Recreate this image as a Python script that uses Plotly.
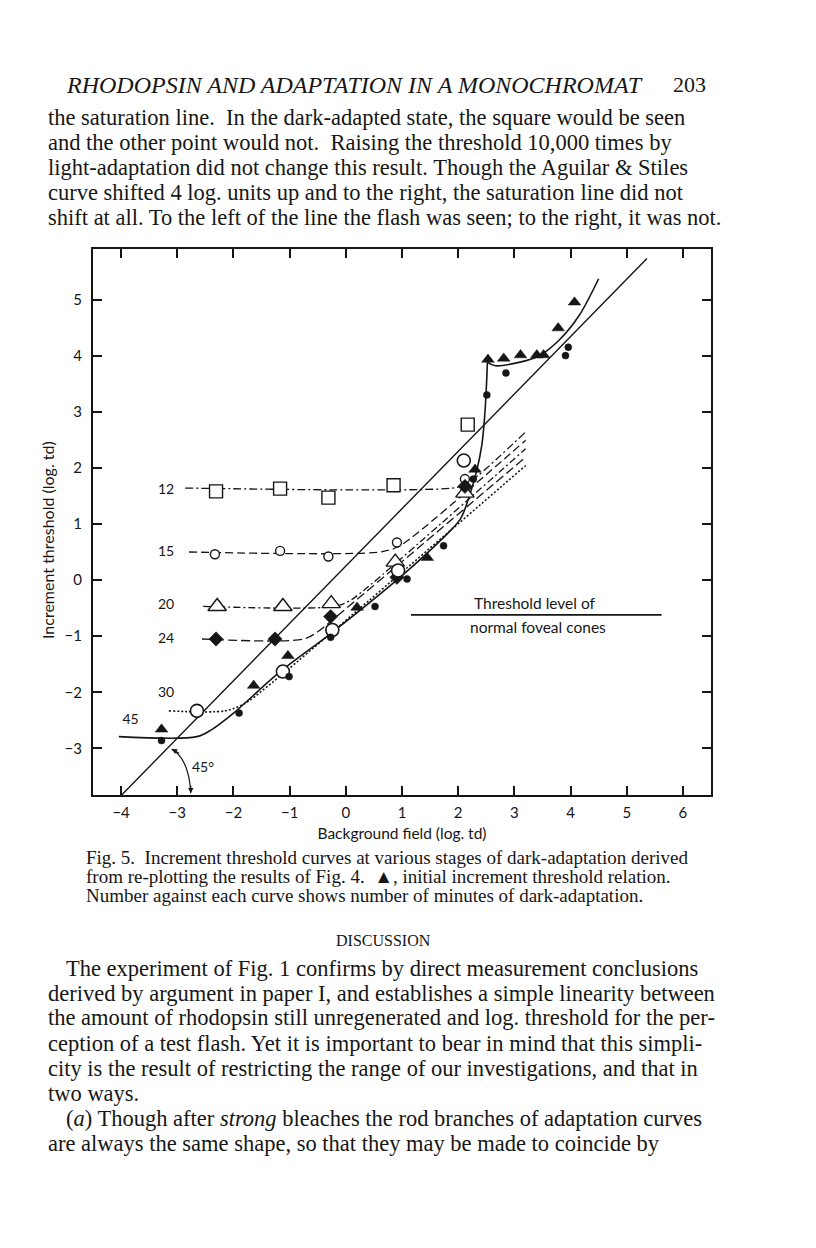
import plotly.graph_objects as go

INK = '#161616'
SERIF = 'Liberation Serif, Times New Roman, serif'
SANS = 'Lato, Open Sans, sans-serif'

# ---- chart data (log. td) ----
# 45 deg reference line
diag_x = [-4.0, 5.36]
diag_y = [-3.84, 5.73]

# solid curve (45 min), rod branch and cone branch
rod45_x = [-4.04, -2.65, -2.38, -2.02, -1.19, -0.24, 1.0, 1.7, 2.04, 2.2, 2.33, 2.42, 2.47, 2.5, 2.52]
rod45_y = [-2.79, -2.79, -2.66, -2.39, -1.65, -0.93, 0.08, 0.72, 1.09, 1.5, 1.95, 2.4, 2.9, 3.4, 3.88]
cone_x = [2.52, 2.66, 3.08, 3.43, 3.79, 4.15, 4.5]
cone_y = [3.88, 3.82, 3.88, 3.99, 4.27, 4.71, 5.37]

# fitted curves for each stage of dark-adaptation
c12_x = [-2.86, 1.9, 2.12, 2.35, 3.2]
c12_y = [1.64, 1.64, 1.7, 1.86, 2.64]
c15_x = [-2.79, 0.6, 0.9, 1.15, 3.2]
c15_y = [0.5, 0.5, 0.58, 0.74, 2.49]
c20_x = [-2.54, -0.2, 0.05, 0.3, 3.2]
c20_y = [-0.47, -0.47, -0.38, -0.2, 2.34]
c24_x = [-2.56, -0.75, -0.5, -0.25, 3.2]
c24_y = [-1.05, -1.05, -0.92, -0.72, 2.19]
c30_x = [-3.15, -2.15, -1.8, -1.4, 3.2]
c30_y = [-2.33, -2.33, -2.2, -1.9, 2.04]

# measured points
sq12_x = [-2.31, -1.17, -0.31, 0.85, 2.17]
sq12_y = [1.58, 1.63, 1.47, 1.69, 2.77]
ci15_x = [-2.33, -1.17, -0.31, 0.91, 2.12]
ci15_y = [0.46, 0.52, 0.42, 0.67, 1.8]
tr20_x = [-2.29, -1.12, -0.26, 0.88, 2.12]
tr20_y = [-0.47, -0.47, -0.42, 0.32, 1.55]
di24_x = [-2.31, -1.26, -0.27, 0.91, 2.12]
di24_y = [-1.05, -1.05, -0.65, 0.05, 1.67]
ci30_x = [-2.65, -1.12, -0.24, 0.93, 2.1]
ci30_y = [-2.33, -1.63, -0.89, 0.17, 2.13]
dot45_x = [-3.28, -1.9, -1.01, -0.27, 0.52, 1.09, 1.74, 2.27, 2.51, 2.85, 3.91, 3.96]
dot45_y = [-2.86, -2.37, -1.72, -1.02, -0.47, 0.02, 0.61, 1.8, 3.3, 3.69, 4.0, 4.15]
init_x = [-3.28, -1.64, -1.03, 0.2, 1.45, 2.3, 2.53, 2.81, 3.11, 3.4, 3.52, 3.78, 4.07]
init_y = [-2.66, -1.88, -1.35, -0.49, 0.4, 1.97, 3.93, 3.95, 4.01, 4.01, 4.01, 4.49, 4.95]

curve_labels = ['12', '15', '20', '24', '30', '45']
label_x = [-3.2, -3.2, -3.2, -3.2, -3.2, -3.83]
label_y = [1.59, 0.5, -0.46, -1.05, -2.03, -2.51]

# cone threshold bar
cone_bar_x = [1.16, 5.62]
cone_bar_y = [-0.62, -0.62]

x_ticks = list(range(-4, 7))
y_ticks = list(range(-3, 6))

# ---- page text ----
header_title = 'RHODOPSIN AND ADAPTATION IN A MONOCHROMAT'
page_no = '203'
top_lines = [
    'the saturation line.  In the dark-adapted state, the square would be seen',
    'and the other point would not.  Raising the threshold 10,000 times by',
    'light-adaptation did not change this result. Though the Aguilar &amp; Stiles',
    'curve shifted 4 log. units up and to the right, the saturation line did not',
    'shift at all. To the left of the line the flash was seen; to the right, it was not.',
]
caption_lines = [
    'Fig. 5.  Increment threshold curves at various stages of dark-adaptation derived',
    'from re-plotting the results of Fig. 4.  \u25b2, initial increment threshold relation.',
    'Number against each curve shows number of minutes of dark-adaptation.',
]
discussion_lines = [
    'The experiment of Fig. 1 confirms by direct measurement conclusions',
    'derived by argument in paper I, and establishes a simple linearity between',
    'the amount of rhodopsin still unregenerated and log. threshold for the per-',
    'ception of a test flash. Yet it is important to bear in mind that this simpli-',
    'city is the result of restricting the range of our investigations, and that in',
    'two ways.',
    '(<i>a</i>) Though after <i>strong</i> bleaches the rod branches of adaptation curves',
    'are always the same shape, so that they may be made to coincide by',
]

# the page body has an 8px margin, so the figure is drawn 8px in from the corner
PAD = 8
W, H = 816 - 2 * PAD, 1248 - 2 * PAD
L, R, T, B = 93, 711, 249, 795   # plot box, in window pixels


def page(px, py):
    """window pixel position -> paper coordinates"""
    return (px - L) / (R - L), (B - py) / (B - T)


fig = go.Figure()


def add_curve(x, y, dash, width=1.3, shape='spline'):
    fig.add_trace(go.Scatter(
        x=x, y=y, mode='lines',
        line=dict(color=INK, width=width, dash=dash, shape=shape, smoothing=0.9),
        hoverinfo='skip', showlegend=False
    ))


def add_points(x, y, symbol, size, fill, lw=1.4):
    fig.add_trace(go.Scatter(
        x=x, y=y, mode='markers',
        marker=dict(symbol=symbol, size=size, color=fill, line=dict(color=INK, width=lw)),
        hoverinfo='skip', showlegend=False
    ))


add_curve(diag_x, diag_y, 'solid', width=1.4, shape='linear')
add_curve(rod45_x, rod45_y, 'solid', width=1.6)
add_curve(cone_x, cone_y, 'solid', width=1.6)
add_curve(c12_x, c12_y, '8px,3px,2px,3px')
add_curve(c15_x, c15_y, '8px,4px')
add_curve(c20_x, c20_y, '7px,3px,2px,3px')
add_curve(c24_x, c24_y, '9px,4px')
add_curve(c30_x, c30_y, '2px,2px', width=1.6)
add_curve(cone_bar_x, cone_bar_y, 'solid', width=1.6, shape='linear')

add_points(sq12_x, sq12_y, 'square', 13, 'white')
add_points(ci15_x, ci15_y, 'circle', 9, 'white')
add_points(tr20_x, tr20_y, 'triangle-up', 16, 'white')
add_points(di24_x, di24_y, 'diamond', 11, INK, lw=0.5)
add_points(ci30_x, ci30_y, 'circle', 13, 'white', lw=1.6)
add_points(dot45_x, dot45_y, 'circle', 7, INK, lw=0.5)
add_points(init_x, init_y, 'triangle-up', 11, INK, lw=0.5)

# curve labels
fig.add_trace(go.Scatter(
    x=label_x, y=label_y, mode='text', text=curve_labels,
    textfont=dict(family=SANS, size=14, color=INK),
    hoverinfo='skip', showlegend=False
))

annotations = [
    dict(x=3.36, y=-0.41, xref='x', yref='y', text='Threshold level of', showarrow=False,
         font=dict(family=SANS, size=15.5, color=INK)),
    dict(x=3.42, y=-0.84, xref='x', yref='y', text='normal foveal cones', showarrow=False,
         font=dict(family=SANS, size=15.5, color=INK)),
    dict(x=-2.54, y=-3.33, xref='x', yref='y', text='45\u00b0', showarrow=False,
         font=dict(family=SANS, size=14, color=INK)),
    # arrowheads for the 45 deg arc
    dict(x=-3.1, y=-3.01, xref='x', yref='y', ax=9, ay=5, text='', showarrow=True,
         arrowhead=2, arrowsize=0.9, arrowwidth=1.2, arrowcolor=INK),
    dict(x=-2.76, y=-3.8, xref='x', yref='y', ax=0, ay=-9, text='', showarrow=True,
         arrowhead=2, arrowsize=0.9, arrowwidth=1.2, arrowcolor=INK),
]

# y axis title, set a little below the middle as in the print
yt_x, yt_y = page(47, 540)
annotations.append(dict(x=yt_x, y=yt_y, xref='paper', yref='paper',
                        text='Increment threshold (log. td)', textangle=-90,
                        showarrow=False, xanchor='center', yanchor='middle',
                        font=dict(family=SANS, size=16, color=INK)))

# page text outside the plot
BODY = 22.5
hx, hy = page(354, 85)
annotations.append(dict(x=hx, y=hy, xref='paper', yref='paper', text='<i>' + header_title + '</i>',
                        showarrow=False, xanchor='center', yanchor='middle',
                        font=dict(family=SERIF, size=24, color=INK)))
px_, py_ = page(708, 85)
annotations.append(dict(x=px_, y=py_, xref='paper', yref='paper', text=page_no,
                        showarrow=False, xanchor='right', yanchor='middle',
                        font=dict(family=SERIF, size=22, color=INK)))

for i, line in enumerate(top_lines):
    x0, y0 = page(46, 118 + i * 24.8)
    annotations.append(dict(x=x0, y=y0, xref='paper', yref='paper', text=line,
                            showarrow=False, xanchor='left', yanchor='middle',
                            font=dict(family=SERIF, size=BODY, color=INK)))

for i, line in enumerate(caption_lines):
    x0, y0 = page(84, 857 + i * 19)
    annotations.append(dict(x=x0, y=y0, xref='paper', yref='paper', text=line,
                            showarrow=False, xanchor='left', yanchor='middle',
                            font=dict(family=SERIF, size=19, color=INK)))

dx, dy = page(383, 940)
annotations.append(dict(x=dx, y=dy, xref='paper', yref='paper', text='DISCUSSION',
                        showarrow=False, xanchor='center', yanchor='middle',
                        font=dict(family=SERIF, size=16, color=INK)))

for i, line in enumerate(discussion_lines):
    indent = 64 if i in (0, 6) else 46
    x0, y0 = page(indent, 968 + i * 25)
    annotations.append(dict(x=x0, y=y0, xref='paper', yref='paper', text=line,
                            showarrow=False, xanchor='left', yanchor='middle',
                            font=dict(family=SERIF, size=BODY, color=INK)))

# curved arrow marking the 45 deg angle
shapes = [dict(type='path', xref='x', yref='y',
               path='M -3.1,-3.01 Q -2.79,-3.19 -2.76,-3.8',
               line=dict(color=INK, width=1.2))]

axis_common = dict(
    showgrid=False, zeroline=False, showline=True, linewidth=2, linecolor=INK,
    mirror='allticks', ticks='inside', ticklen=9, tickwidth=1.5, tickcolor=INK,
    tickfont=dict(family=SANS, size=15, color=INK),
)

fig.update_layout(
    width=W, height=H,
    margin=dict(l=L - PAD, r=W + PAD - R, t=T - PAD, b=H + PAD - B),
    paper_bgcolor='white', plot_bgcolor='white',
    showlegend=False,
    xaxis=dict(range=[-4.5, 6.5], tickvals=x_ticks, ticklabelstandoff=3,
               title=dict(text='Background field (log. td)', standoff=8,
                          font=dict(family=SANS, size=15.5, color=INK)),
               **axis_common),
    yaxis=dict(range=[-3.83, 5.9], tickvals=y_ticks, ticklabelstandoff=6,
               **axis_common),
    annotations=annotations,
    shapes=shapes,
)

fig.write_html('out.html')
